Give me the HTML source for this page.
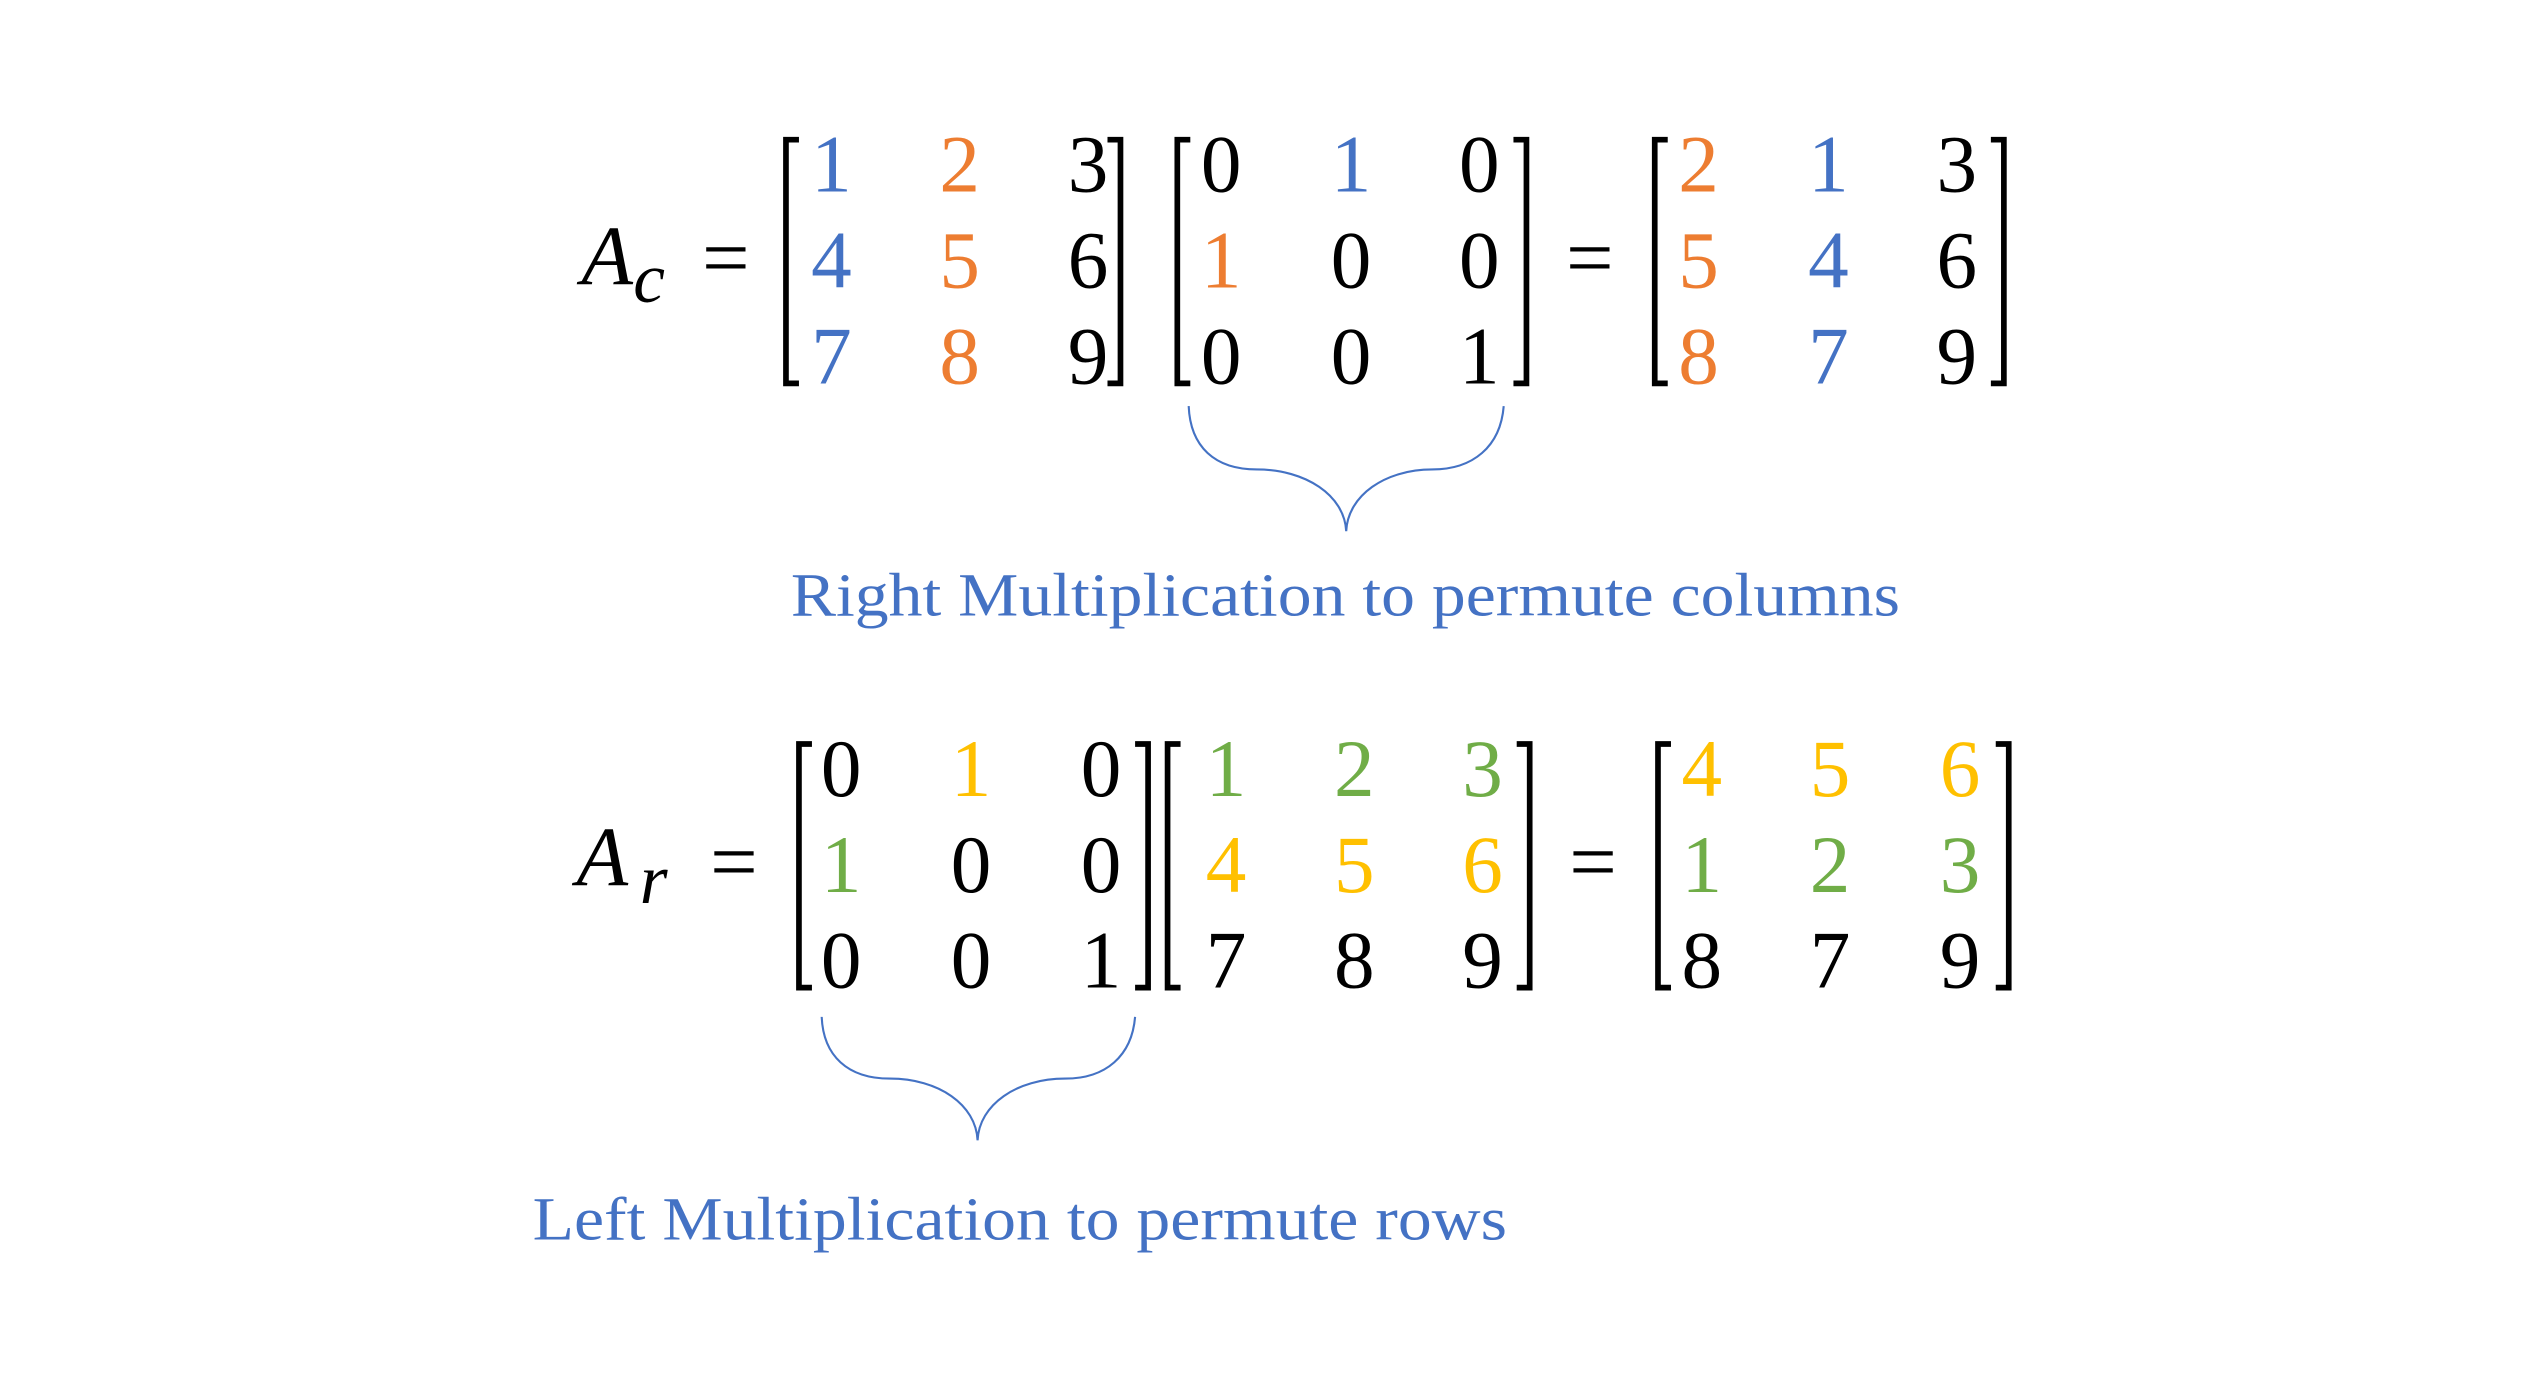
<!DOCTYPE html>
<html><head><meta charset="utf-8"><style>
html,body{margin:0;padding:0;background:#fff;}
svg{display:block;}
text{font-family:"Liberation Serif",serif;}
.d{font-size:50px;text-anchor:middle;}
.b{fill:#4472C4}.o{fill:#ED7D31}.g{fill:#70AD47}.y{fill:#FFC000}.k{fill:#000}
.br{fill:none;stroke:#000;stroke-width:3.5;}
</style></head><body>
<svg width="2543" height="1397" viewBox="0 0 1566 860" preserveAspectRatio="none">
<rect width="1566" height="860" fill="#fff"/>
<!-- TOP -->
<text x="358" y="175" font-size="52" font-style="italic">A</text>
<text x="390" y="186" font-size="44" font-style="italic">c</text>
<text x="447" y="176" font-size="52" text-anchor="middle">=</text>
<path class="br" d="M492,86 H484 V236 H492"/>
<path class="br" d="M682,86 H690 V236 H682"/>
<text class="d b" x="512" y="118">1</text><text class="d o" x="591" y="118">2</text><text class="d k" x="670" y="118">3</text>
<text class="d b" x="512" y="177">4</text><text class="d o" x="591" y="177">5</text><text class="d k" x="670" y="177">6</text>
<text class="d b" x="512" y="236">7</text><text class="d o" x="591" y="236">8</text><text class="d k" x="670" y="236">9</text>
<path class="br" d="M733,86 H725 V236 H733"/>
<path class="br" d="M932,86 H940 V236 H932"/>
<text class="d k" x="752" y="118">0</text><text class="d b" x="832" y="118">1</text><text class="d k" x="911" y="118">0</text>
<text class="d o" x="752" y="177">1</text><text class="d k" x="832" y="177">0</text><text class="d k" x="911" y="177">0</text>
<text class="d k" x="752" y="236">0</text><text class="d k" x="832" y="236">0</text><text class="d k" x="911" y="236">1</text>
<text x="979" y="176" font-size="52" text-anchor="middle">=</text>
<path class="br" d="M1027,86 H1019 V236 H1027"/>
<path class="br" d="M1226,86 H1234 V236 H1226"/>
<text class="d o" x="1046" y="118">2</text><text class="d b" x="1126" y="118">1</text><text class="d k" x="1205" y="118">3</text>
<text class="d o" x="1046" y="177">5</text><text class="d b" x="1126" y="177">4</text><text class="d k" x="1205" y="177">6</text>
<text class="d o" x="1046" y="236">8</text><text class="d b" x="1126" y="236">7</text><text class="d k" x="1205" y="236">9</text>
<path d="M732,250 C733,275 748,289 774,289 C804,289 828,305 829,327 C830,305 853,289 882,289 C907,289 924,275 926,250" fill="none" stroke="#4472C4" stroke-width="1.3"/>
<text x="487" y="379" font-size="38" fill="#4472C4" textLength="683" lengthAdjust="spacingAndGlyphs">Right Multiplication to permute columns</text>
<!-- BOTTOM -->
<text x="355" y="545" font-size="52" font-style="italic">A</text>
<text x="394" y="556" font-size="44" font-style="italic">r</text>
<text x="452" y="548" font-size="52" text-anchor="middle">=</text>
<path class="br" d="M500,458 H492 V608 H500"/>
<path class="br" d="M699,458 H707 V608 H699"/>
<text class="d k" x="518" y="490">0</text><text class="d y" x="598" y="490">1</text><text class="d k" x="678" y="490">0</text>
<text class="d g" x="518" y="549">1</text><text class="d k" x="598" y="549">0</text><text class="d k" x="678" y="549">0</text>
<text class="d k" x="518" y="608">0</text><text class="d k" x="598" y="608">0</text><text class="d k" x="678" y="608">1</text>
<path class="br" d="M727,458 H719 V608 H727"/>
<path class="br" d="M934,458 H942 V608 H934"/>
<text class="d g" x="755" y="490">1</text><text class="d g" x="834" y="490">2</text><text class="d g" x="913" y="490">3</text>
<text class="d y" x="755" y="549">4</text><text class="d y" x="834" y="549">5</text><text class="d y" x="913" y="549">6</text>
<text class="d k" x="755" y="608">7</text><text class="d k" x="834" y="608">8</text><text class="d k" x="913" y="608">9</text>
<text x="981" y="548" font-size="52" text-anchor="middle">=</text>
<path class="br" d="M1029,458 H1021 V608 H1029"/>
<path class="br" d="M1229,458 H1237 V608 H1229"/>
<text class="d y" x="1048" y="490">4</text><text class="d y" x="1127" y="490">5</text><text class="d y" x="1207" y="490">6</text>
<text class="d g" x="1048" y="549">1</text><text class="d g" x="1127" y="549">2</text><text class="d g" x="1207" y="549">3</text>
<text class="d k" x="1048" y="608">8</text><text class="d k" x="1127" y="608">7</text><text class="d k" x="1207" y="608">9</text>
<path d="M506,626 C507,650 522,664 548,664 C578,664 601,680 602,702 C603,680 626,664 656,664 C681,664 697,650 699,626" fill="none" stroke="#4472C4" stroke-width="1.3"/>
<text x="328" y="763" font-size="38" fill="#4472C4" textLength="600" lengthAdjust="spacingAndGlyphs">Left Multiplication to permute rows</text>
</svg>
</body></html>
